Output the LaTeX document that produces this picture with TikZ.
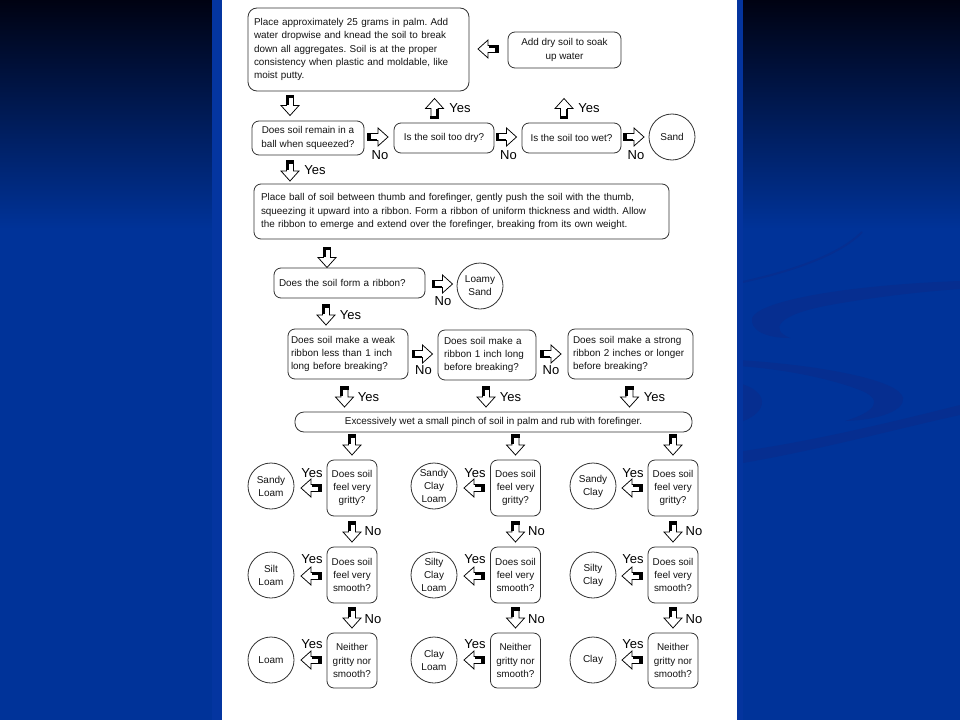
\documentclass[tikz,border=0pt]{standalone}
\usepackage{fontspec}
\setmainfont{Liberation Sans}
\frenchspacing
\definecolor{bgblue}{RGB}{0,51,153}
\definecolor{bgtop}{RGB}{0,2,18}
\definecolor{swirl}{RGB}{6,46,144}
\definecolor{inkc}{RGB}{20,20,20}
\definecolor{stripl}{RGB}{4,53,160}
\definecolor{stripr}{RGB}{4,52,158}
\begin{document}
\begin{tikzpicture}[x=1pt,y=-1pt,
  font=\fontsize{9.9}{13.3}\selectfont,
  box/.style={draw=black!80, line width=0.8pt, rounded corners=7pt, inner ysep=0pt, fill=white, text=inkc},
  circ/.style={circle, draw=black!80, line width=0.8pt, minimum size=46pt, inner sep=0pt, align=center, fill=white, text=inkc, font=\fontsize{10}{13}\selectfont},
  lab/.style={font=\fontsize{13}{13}\selectfont, inner sep=0pt, text=black},
  blockarrow/.pic={
    \draw[fill=white, line width=0.75pt, line join=miter, draw=black]
      (-3.5,-10) -- (3.5,-10) -- (3.5,0) -- (9,0) -- (0,10) -- (-9,0) -- (-3.5,0) -- cycle;
    \fill[black] (-4.3,-10.8) rectangle (4.3,-7.3);
    \fill[black] (-4.3,-10.8) rectangle (-1.5,-0.8);
  }
]
% background
\useasboundingbox (0,0) rectangle (960,720);
\fill[bgblue] (0,0) rectangle (960,720);
\shade[top color=bgtop, bottom color=bgblue] (0,0) rectangle (960,230);
% swirls
\draw[swirl, line width=2pt] (738,283) .. controls (790,272) and (840,255) .. (862,232);
\fill[swirl] (960,281) .. controls (850,285) and (760,300) .. (752,318) .. controls (750,330) and (765,338) .. (790,338) .. controls (770,330) and (775,315) .. (830,305) .. controls (880,296) and (930,291) .. (960,289) -- cycle;
\fill[swirl] (738,360) .. controls (820,365) and (900,380) .. (903,398) .. controls (905,410) and (880,420) .. (845,421) .. controls (875,412) and (885,400) .. (860,390) .. controls (820,375) and (770,368) .. (738,366) -- cycle;
\fill[swirl] (738,383) .. controls (768,390) and (772,412) .. (738,423) -- cycle;
\fill[swirl] (737,452) .. controls (820,440) and (900,420) .. (960,405) -- (960,415) .. controls (900,428) and (820,450) .. (737,464) -- cycle;
% page
\fill[stripl] (212,0) rectangle (222,720);
\fill[stripr] (737,0) rectangle (743,720);
\fill[white] (222,0) rectangle (737,720);

% ---- top section
\node[box, rounded corners=9pt, minimum width=221pt, minimum height=83pt, inner xsep=6pt, text width=209pt, align=left] (b1) at (358.5,49.5)
 {Place approximately 25 grams in palm. Add\\ water dropwise and knead the soil to break\\ down all aggregates. Soil is at the proper\\ consistency when plastic and moldable, like\\ moist putty.};
\node[box, minimum width=113pt, minimum height=36pt, align=center] (b2) at (564.5,50) {Add dry soil to soak\\ up water};
\pic[rotate=-90] (a1) at (488,49) {blockarrow};
\pic (a2) at (290,105.5) {blockarrow};

\node[box, minimum width=112pt, minimum height=34pt, align=center] (q1) at (308,138) {Does soil remain in a\\ ball when squeezed?};
\node[box, minimum width=100pt, minimum height=30pt, align=center] (q2) at (444,138) {Is the soil too dry?};
\node[box, minimum width=99pt, minimum height=30pt, align=center] (q3) at (571.5,138) {Is the soil too wet?};
\node[circ] (sand) at (672,137) {Sand};

\pic[rotate=180] (a3) at (434.5,108.5) {blockarrow};
\node[lab] (y1) at (460,108) {Yes};
\pic[rotate=180] (a4) at (564,108.5) {blockarrow};
\node[lab] (y2) at (589,108) {Yes};

\pic[rotate=90] (a5) at (378,137) {blockarrow};
\node[lab] (n1) at (380,155) {No};
\pic[rotate=90] (a6) at (506.5,137) {blockarrow};
\node[lab] (n2) at (508.5,155) {No};
\pic[rotate=90] (a7) at (634,137) {blockarrow};
\node[lab] (n3) at (636,155) {No};

\pic (a8) at (290,171) {blockarrow};
\node[lab] (y3) at (315,170) {Yes};

% ---- ribbon section
\node[box, minimum width=415pt, minimum height=55pt, inner xsep=7pt, text width=401pt, align=left] (b3) at (461.5,211.5)
 {Place ball of soil between thumb and forefinger, gently push the soil with the thumb,\\ squeezing it upward into a ribbon. Form a ribbon of uniform thickness and width. Allow\\ the ribbon to emerge and extend over the forefinger, breaking from its own weight.};
\pic (a9) at (327,257.5) {blockarrow};

\node[box, minimum width=151pt, minimum height=30pt, inner xsep=5pt, text width=141pt, align=left] (q4) at (349.5,283) {Does the soil form a ribbon?};
\pic[rotate=90] (a10) at (442.5,284) {blockarrow};
\node[lab] (n4) at (443,301) {No};
\node[circ] (lsand) at (480,286) {Loamy\\ Sand};

\pic (a11) at (326,315) {blockarrow};
\node[lab] (y4) at (350.5,315) {Yes};

\node[box, minimum width=120pt, minimum height=50pt, inner xsep=3pt, text width=114pt, align=left] (r1) at (348,354) {Does soil make a weak\\ ribbon less than 1 inch\\ long before breaking?};
\node[box, minimum width=98pt, minimum height=50pt, inner xsep=6pt, text width=86pt, align=left] (r2) at (487,355) {Does soil make a\\ ribbon 1 inch long\\ before breaking?};
\node[box, minimum width=125pt, minimum height=50pt, inner xsep=5pt, text width=115pt, align=left] (r3) at (630.5,354) {Does soil make a strong\\ ribbon 2 inches or longer\\ before breaking?};
\pic[rotate=90] (a12) at (422.5,354) {blockarrow};
\node[lab] (n5) at (423.5,370) {No};
\pic[rotate=90] (a13) at (551,354) {blockarrow};
\node[lab] (n6) at (551,370) {No};

\pic (a14) at (344.5,397) {blockarrow};
\node[lab] (y5) at (368.5,397) {Yes};
\pic (a15) at (486,397) {blockarrow};
\node[lab] (y6) at (510.5,397) {Yes};
\pic (a16) at (629.5,397) {blockarrow};
\node[lab] (y7) at (654.5,397) {Yes};

\node[box, rounded corners=9pt, minimum width=397pt, minimum height=20pt, align=center] (b4) at (493.5,422) {Excessively wet a small pinch of soil in palm and rub with forefinger.};

% ---- feel section (three columns)
\foreach \c/\bx/\cx/\ax/\ta/\tb/\tc in {1/352/271/311/{Sandy\\ Loam}/{Silt\\ Loam}/{Loam},
                                       2/515.5/434/474/{Sandy\\ Clay\\ Loam}/{Silty\\ Clay\\ Loam}/{Clay\\ Loam},
                                       3/673/593/632/{Sandy\\ Clay}/{Silty\\ Clay}/{Clay}} {
  \pic (d0\c) at (\bx,445) {blockarrow};
  \node[box, minimum width=50pt, minimum height=56pt, align=center] (g\c) at (\bx,488) {Does soil\\ feel very\\ gritty?};
  \node[box, minimum width=50pt, minimum height=56pt, align=center] (s\c) at (\bx,575) {Does soil\\ feel very\\ smooth?};
  \node[box, minimum width=50pt, minimum height=55pt, align=center] (m\c) at (\bx,660.5) {Neither\\ gritty nor\\ smooth?};
  \node[circ] (cg\c) at (\cx,486) {\ta};
  \node[circ] (cs\c) at (\cx,575) {\tb};
  \node[circ] (cm\c) at (\cx,660) {\tc};
  \pic[rotate=-90] (lg\c) at (\ax,488) {blockarrow};
  \pic[rotate=-90] (ls\c) at (\ax,576) {blockarrow};
  \pic[rotate=-90] (lm\c) at (\ax,660) {blockarrow};
  \node[lab] (yg\c) at (\ax+1,473) {Yes};
  \node[lab] (ys\c) at (\ax+1,559) {Yes};
  \node[lab] (ym\c) at (\ax+1,644) {Yes};
  \pic (dg\c) at (\bx,532) {blockarrow};
  \pic (ds\c) at (\bx,618) {blockarrow};
  \node[lab] (ng\c) at (\bx+21,531) {No};
  \node[lab] (ns\c) at (\bx+21,619) {No};
}
\end{tikzpicture}
\end{document}
